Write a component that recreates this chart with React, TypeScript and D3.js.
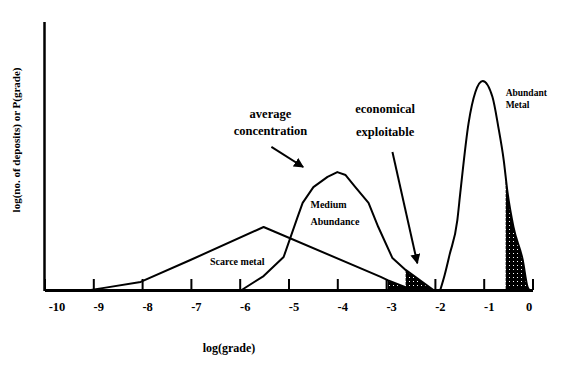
import React, { useEffect, useRef } from 'react';
import * as d3 from 'd3';

// x values are log(grade), y values are relative height (0-100)
const tickValues = [-10, -9, -8, -7, -6, -5, -4, -3, -2, -1, 0];
const tickLabels = ['-10', '-9', '-8', '-7', '-6', '-5', '-4', '-3', '-2', '-1', '0'];

const scarceMetal: [number, number][] = [
  [-9.05, 0], [-8.81, 0.7], [-8.03, 3.0], [-7.01, 11.2], [-5.51, 23.5],
  [-3.11, 4.9], [-2.97, 3.7], [-2.46, 0],
];

const mediumAbundance: [number, number][] = [
  [-5.96, 0], [-5.51, 5.2], [-5.1, 12.3], [-4.82, 26.9], [-4.71, 32.5],
  [-4.49, 38.4], [-4.2, 42.2], [-4.0, 44.0], [-3.83, 42.9], [-3.63, 38.4],
  [-3.36, 32.5], [-3.16, 23.5], [-2.87, 11.9], [-2.6, 7.5], [-2.03, 0],
];

const abundantMetal: [number, number][] = [
  [-1.89, 0], [-1.8, 5.6], [-1.7, 13.1], [-1.54, 26.1], [-1.48, 36.2],
  [-1.31, 62.3], [-1.17, 73.9], [-1.02, 78.0], [-0.82, 72.0], [-0.7, 60.8],
  [-0.59, 48.5], [-0.51, 36.2], [-0.39, 23.5], [-0.2, 11.2], [-0.1, 1.1], [-0.06, 0],
];

// shaded (economically exploitable) ranges
const shadeScarce: [number, number] = [-2.97, -2.4];
const shadeMedium: [number, number] = [-2.6, -2.0];
const shadeAbundant: [number, number] = [-0.55, 0];

// annotation texts, positioned in data units [x, y]
const curveLabels = [
  { lines: ['Abundant', 'Metal'], at: [-0.55, 72.4], size: 9.5, gap: 12 },
  { lines: ['Medium', 'Abundance'], at: [-4.55, 30.6], size: 10, gap: 17 },
  { lines: ['Scarce metal'], at: [-6.61, 9.3], size: 10, gap: 0 },
];
const notes = [
  { lines: ['average', 'concentration'], at: [-5.37, 64.2], size: 12.5, gap: 17 },
  { lines: ['economical', 'exploitable'], at: [-3.02, 66.0], size: 12.5, gap: 23 },
];
const arrows: [number, number, number, number][] = [
  [-5.35, 53.4, -4.7, 45.9],
  [-2.87, 51.5, -2.36, 10.0],
];

const App = () => {
  const ref = useRef<SVGSVGElement>(null);

  useEffect(() => {
    drawChart();
  }, []);

  const drawChart = () => {
    const svg = d3.select(ref.current);
    svg.selectAll('*').remove();

    const x = d3.scaleLinear().domain([-10, 0]).range([44.5, 532.5]);
    const y = d3.scaleLinear().domain([0, 100]).range([290, 22]);

    const font = '"Liberation Serif", "DejaVu Serif", serif';

    // stipple pattern for shaded tails
    const defs = svg.append('defs');
    const pat = defs.append('pattern')
      .attr('id', 'stipple')
      .attr('patternUnits', 'userSpaceOnUse')
      .attr('width', 4)
      .attr('height', 4);
    pat.append('rect').attr('width', 4).attr('height', 4).attr('fill', '#000');
    pat.append('rect').attr('x', 1).attr('y', 1).attr('width', 1).attr('height', 1).attr('fill', '#fff');

    const clip = (id: string, r: [number, number]) => {
      defs.append('clipPath').attr('id', id)
        .append('rect')
        .attr('x', x(r[0]))
        .attr('y', 0)
        .attr('width', x(r[1]) - x(r[0]))
        .attr('height', 300);
    };
    clip('clipScarce', shadeScarce);
    clip('clipMedium', shadeMedium);
    clip('clipAbundant', shadeAbundant);

    const area = (curve: d3.CurveFactory) => d3.area<[number, number]>()
      .x(d => x(d[0]))
      .y0(y(0))
      .y1(d => y(d[1]))
      .curve(curve);

    svg.append('path').datum(scarceMetal)
      .attr('d', area(d3.curveLinear))
      .attr('fill', 'url(#stipple)')
      .attr('clip-path', 'url(#clipScarce)');
    svg.append('path').datum(mediumAbundance)
      .attr('d', area(d3.curveLinear))
      .attr('fill', 'url(#stipple)')
      .attr('clip-path', 'url(#clipMedium)');
    svg.append('path').datum(abundantMetal)
      .attr('d', area(d3.curveMonotoneX))
      .attr('fill', 'url(#stipple)')
      .attr('clip-path', 'url(#clipAbundant)');

    // curves
    const line = (curve: d3.CurveFactory) => d3.line<[number, number]>()
      .x(d => x(d[0]))
      .y(d => y(d[1]))
      .curve(curve);

    [
      { data: scarceMetal, curve: d3.curveLinear },
      { data: mediumAbundance, curve: d3.curveLinear },
      { data: abundantMetal, curve: d3.curveMonotoneX },
    ].forEach(c => {
      svg.append('path').datum(c.data)
        .attr('d', line(c.curve))
        .attr('fill', 'none')
        .attr('stroke', '#000')
        .attr('stroke-width', 2)
        .attr('stroke-linejoin', 'round');
    });

    // axes
    const xAxis = svg.append('g')
      .attr('transform', `translate(0, ${y(0)})`)
      .call(d3.axisBottom(x)
        .tickValues(tickValues)
        .tickFormat((_, i) => tickLabels[i])
        .tickSizeInner(-11)
        .tickSizeOuter(0)
        .tickPadding(12));
    xAxis.select('.domain').attr('stroke-width', 3).attr('stroke', '#000');
    xAxis.selectAll('.tick line').attr('stroke-width', 2).attr('stroke', '#000');
    xAxis.selectAll('.tick text')
      .attr('dx', (_, i) => (i === 0 ? 12 : i === tickValues.length - 1 ? -4 : 5))
      .attr('font-family', font)
      .attr('font-weight', 'bold')
      .attr('font-size', 12.5)
      .attr('fill', '#000');

    svg.append('line')
      .attr('x1', x(-10)).attr('x2', x(-10))
      .attr('y1', y(100)).attr('y2', y(0) + 1)
      .attr('stroke', '#000')
      .attr('stroke-width', 2.5);

    // axis titles
    svg.append('text')
      .attr('x', x(-6.22))
      .attr('y', 352)
      .attr('text-anchor', 'middle')
      .attr('font-family', font)
      .attr('font-weight', 'bold')
      .attr('font-size', 12)
      .text('log(grade)');

    svg.append('text')
      .attr('transform', `translate(20, ${y(56)}) rotate(-90)`)
      .attr('text-anchor', 'middle')
      .attr('font-family', font)
      .attr('font-weight', 'bold')
      .attr('font-size', 11)
      .text('log(no. of deposits) or P(grade)');

    // labels
    const writeLines = (items: typeof notes, anchor: string) => {
      items.forEach(n => {
        const t = svg.append('text')
          .attr('font-family', font)
          .attr('font-weight', 'bold')
          .attr('font-size', n.size)
          .attr('text-anchor', anchor);
        n.lines.forEach((s, i) => {
          t.append('tspan')
            .attr('x', x(n.at[0]))
            .attr('y', y(n.at[1]) + i * n.gap)
            .text(s);
        });
      });
    };
    writeLines(curveLabels, 'start');
    writeLines(notes, 'middle');

    // arrows
    defs.append('marker')
      .attr('id', 'head')
      .attr('viewBox', '0 0 10 10')
      .attr('refX', 9)
      .attr('refY', 5)
      .attr('markerWidth', 5)
      .attr('markerHeight', 5)
      .attr('orient', 'auto')
      .append('path')
      .attr('d', 'M0,0 L10,5 L0,10 z')
      .attr('fill', '#000');

    arrows.forEach(a => {
      svg.append('line')
        .attr('x1', x(a[0])).attr('y1', y(a[1]))
        .attr('x2', x(a[2])).attr('y2', y(a[3]))
        .attr('stroke', '#000')
        .attr('stroke-width', 2)
        .attr('marker-end', 'url(#head)');
    });
  };

  return (
    <div style={{ position: 'fixed', left: 0, top: 0, background: '#fff' }}>
      <svg ref={ref} width={567} height={370} style={{ display: 'block' }} />
    </div>
  );
};

export default App;
